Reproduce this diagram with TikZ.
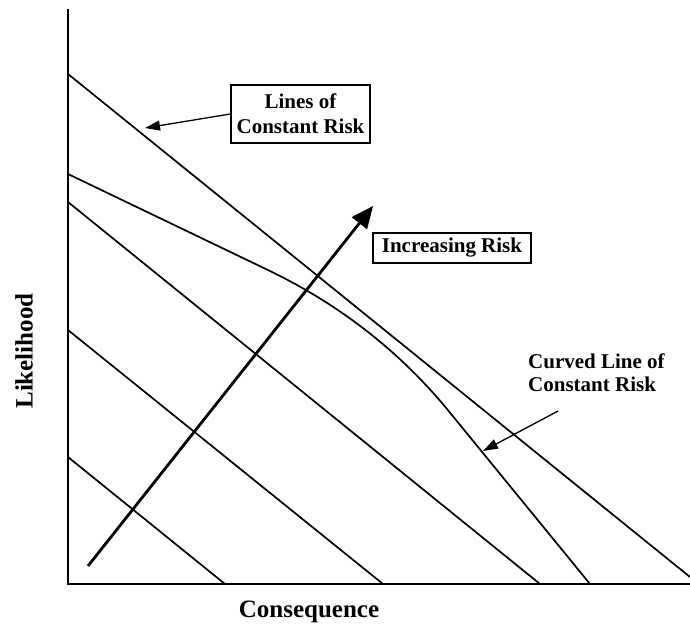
\documentclass[tikz,border=0pt]{standalone}
\usepackage{fontspec}
\setmainfont{Liberation Serif}
\usetikzlibrary{arrows.meta}
\tikzset{
  axisline/.style={line width=2.2pt},
  riskline/.style={line width=1.7pt},
  labelbox/.style={draw, line width=1.3pt, align=center, inner sep=0pt,
    font=\fontsize{21}{25}\selectfont\bfseries},
  labeltext/.style={align=left, inner sep=0pt,
    font=\fontsize{21}{23}\selectfont\bfseries},
  axislabel/.style={inner sep=0pt, font=\fontsize{25}{30}\selectfont\bfseries},
  pointer/.style={line width=1.3pt, -{Triangle[length=15pt,width=10pt]}},
  bigarrow/.style={line width=2.8pt, -{Triangle[length=22pt,width=19pt]}}
}
\begin{document}
\begin{tikzpicture}[x=1pt,y=-1pt]
  \useasboundingbox (0,0) rectangle (690,627);

  % axes
  \coordinate (origin) at (68,584);
  \coordinate (ytop) at (68,9);
  \coordinate (xend) at (690,584);
  \draw[axisline] (ytop) -- (origin) -- (xend);

  % straight lines of constant risk
  \coordinate (a1) at (68,74);   \coordinate (b1) at (690,577);
  \coordinate (a2) at (68,202);  \coordinate (b2) at (540,584);
  \coordinate (a3) at (68,330);  \coordinate (b3) at (383,584);
  \coordinate (a4) at (68,457);  \coordinate (b4) at (225,584);
  \draw[riskline] (a1) -- (b1);
  \draw[riskline] (a2) -- (b2);
  \draw[riskline] (a3) -- (b3);
  \draw[riskline] (a4) -- (b4);

  % curved line of constant risk
  \coordinate (c0) at (68,174);
  \coordinate (c1) at (270,271);
  \coordinate (c2) at (447,409);
  \coordinate (c3) at (590,584);
  \draw[riskline, line join=round] (c0) -- (c1)
    .. controls (340,305) and (399,351) .. (c2) -- (c3);

  % direction of increasing risk
  \coordinate (riskfrom) at (88,566);
  \coordinate (riskto) at (373,206);
  \draw[bigarrow] (riskfrom) -- (riskto);

  % labels
  \node[labelbox, minimum width=139pt, minimum height=58pt] (lcr) at (300.5,114)
    {Lines of\\Constant Risk};
  \coordinate (lcrtip) at (145,128);
  \draw[pointer] (lcr.west) -- (lcrtip);

  \node[labelbox, minimum width=158pt, minimum height=30pt] (inc) at (452,248)
    {Increasing Risk};

  \node[labeltext, anchor=north west] (curv) at (528,354)
    {Curved Line of\\Constant Risk};
  \coordinate (curvfrom) at (558,411);
  \coordinate (curvtip) at (483,451);
  \draw[pointer] (curvfrom) -- (curvtip);

  \node[axislabel, rotate=90] (ylab) at (24,351) {Likelihood};
  \node[axislabel, anchor=base] (xlab) at (309,617) {Consequence};
\end{tikzpicture}
\end{document}
